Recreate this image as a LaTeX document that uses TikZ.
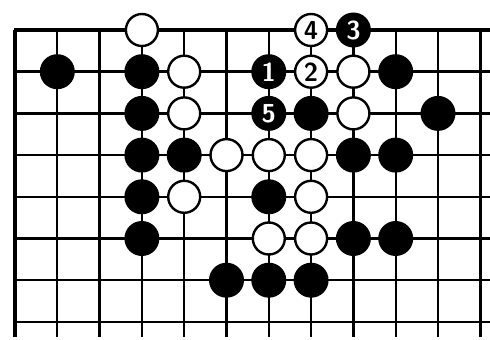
\documentclass[tikz,border=0pt]{standalone}
\usepackage{tikz}

\begin{document}
\begin{tikzpicture}[x=42.3pt,y=-41.7pt,
  gridline/.style={black, line width=2.4pt},
  edgeline/.style={black, line width=3.2pt},
  whitestone/.style={circle, draw=black, fill=white, line width=2.4pt, minimum size=32pt, inner sep=0pt,
    font=\sffamily\bfseries\fontsize{26}{26}\selectfont, text=black},
  blackstone/.style={circle, fill=black, minimum size=35pt, inner sep=0pt,
    font=\sffamily\bfseries\fontsize{26}{26}\selectfont, text=white}]
\useasboundingbox (-0.3546,-0.7194) rectangle (11.2293,7.4341);
% board lines, corner at top left
\draw[gridline] (1,0) -- (1,7.37);
\draw[gridline] (2,0) -- (2,7.37);
\draw[gridline] (3,0) -- (3,7.37);
\draw[gridline] (4,0) -- (4,7.37);
\draw[gridline] (5,0) -- (5,7.37);
\draw[gridline] (6,0) -- (6,7.37);
\draw[gridline] (7,0) -- (7,7.37);
\draw[gridline] (8,0) -- (8,7.37);
\draw[gridline] (9,0) -- (9,7.37);
\draw[gridline] (10,0) -- (10,7.37);
\draw[gridline] (11,0) -- (11,7.37);
\draw[gridline] (0,1) -- (11.23,1);
\draw[gridline] (0,2) -- (11.23,2);
\draw[gridline] (0,3) -- (11.23,3);
\draw[gridline] (0,4) -- (11.23,4);
\draw[gridline] (0,5) -- (11.23,5);
\draw[gridline] (0,6) -- (11.23,6);
\draw[gridline] (0,7) -- (11.23,7);
\draw[edgeline] (0,0) -- (0,7.37);
\draw[edgeline] (-0.02,0) -- (11.23,0);
% white stones
\node[whitestone] (w3-0) at (3,0) {};
\node[whitestone] (w7-0) at (7,0) {4};
\node[whitestone] (w4-1) at (4,1) {};
\node[whitestone] (w7-1) at (7,1) {2};
\node[whitestone] (w8-1) at (8,1) {};
\node[whitestone] (w4-2) at (4,2) {};
\node[whitestone] (w8-2) at (8,2) {};
\node[whitestone] (w5-3) at (5,3) {};
\node[whitestone] (w6-3) at (6,3) {};
\node[whitestone] (w7-3) at (7,3) {};
\node[whitestone] (w4-4) at (4,4) {};
\node[whitestone] (w7-4) at (7,4) {};
\node[whitestone] (w6-5) at (6,5) {};
\node[whitestone] (w7-5) at (7,5) {};
% black stones
\node[blackstone] (b8-0) at (8,0) {3};
\node[blackstone] (b1-1) at (1,1) {};
\node[blackstone] (b3-1) at (3,1) {};
\node[blackstone] (b6-1) at (6,1) {1};
\node[blackstone] (b9-1) at (9,1) {};
\node[blackstone] (b3-2) at (3,2) {};
\node[blackstone] (b6-2) at (6,2) {5};
\node[blackstone] (b7-2) at (7,2) {};
\node[blackstone] (b10-2) at (10,2) {};
\node[blackstone] (b3-3) at (3,3) {};
\node[blackstone] (b4-3) at (4,3) {};
\node[blackstone] (b8-3) at (8,3) {};
\node[blackstone] (b9-3) at (9,3) {};
\node[blackstone] (b3-4) at (3,4) {};
\node[blackstone] (b6-4) at (6,4) {};
\node[blackstone] (b3-5) at (3,5) {};
\node[blackstone] (b8-5) at (8,5) {};
\node[blackstone] (b9-5) at (9,5) {};
\node[blackstone] (b5-6) at (5,6) {};
\node[blackstone] (b6-6) at (6,6) {};
\node[blackstone] (b7-6) at (7,6) {};
\end{tikzpicture}
\end{document}
